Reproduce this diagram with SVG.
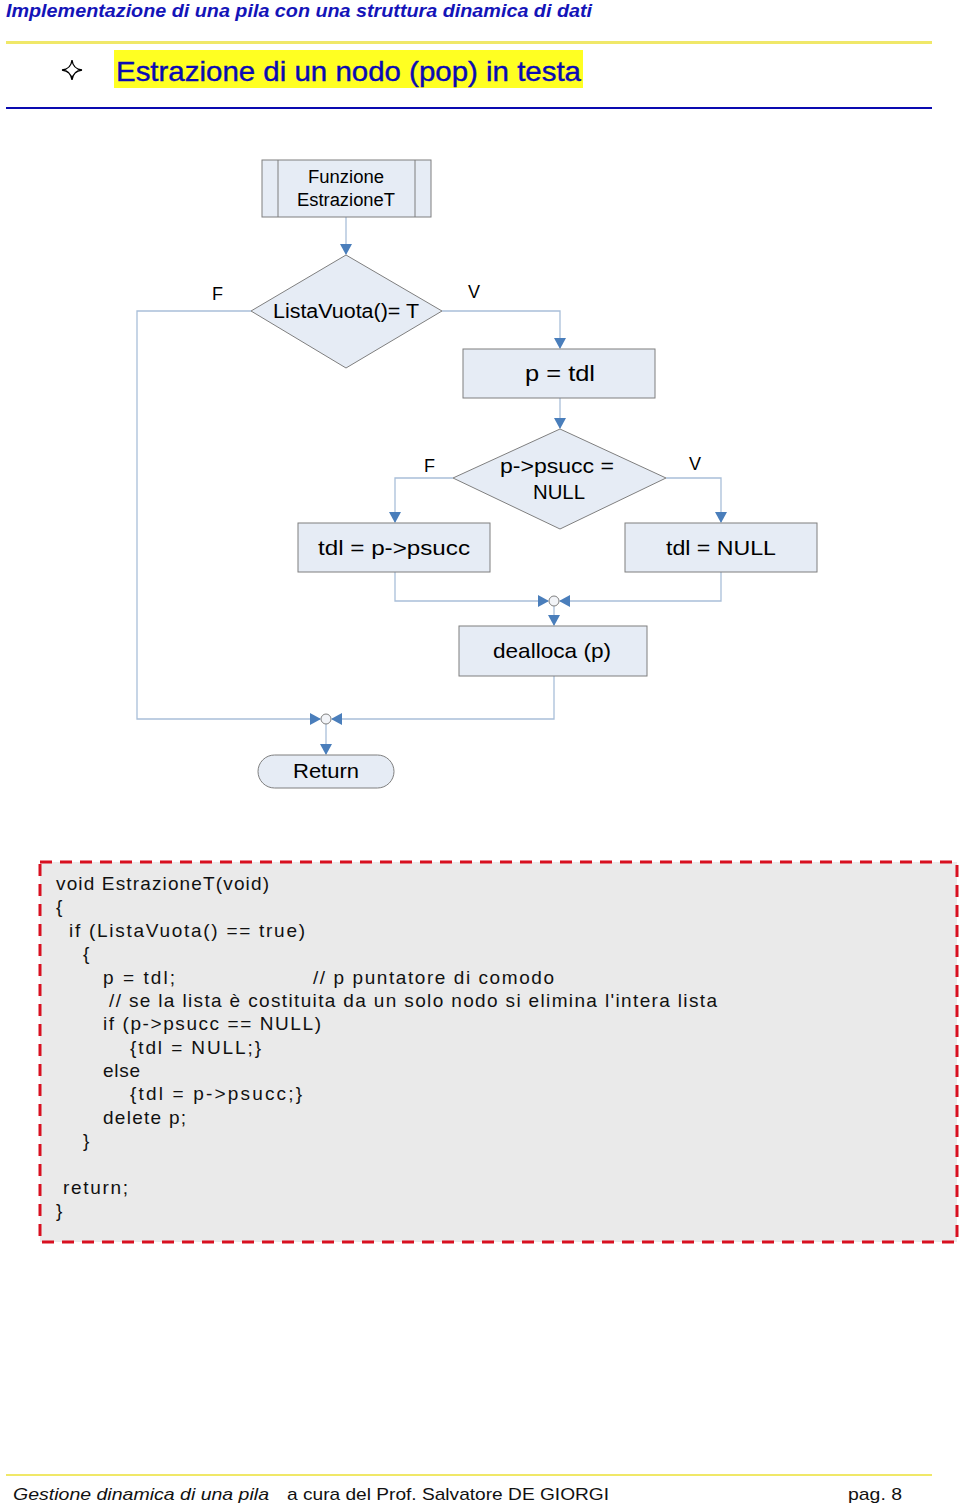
<svg xmlns="http://www.w3.org/2000/svg" width="960" height="1505" viewBox="0 0 960 1505">
<style>
.node{fill:#E6ECF5;stroke:#7F7F7F;stroke-width:1}
.lbl{font-family:"Liberation Sans",Arial,sans-serif;fill:#000;text-anchor:middle}
.tf{font-family:"Liberation Sans",Arial,sans-serif;font-size:18px;fill:#000}
.conn{fill:none;stroke:#A9BFD9;stroke-width:1.3}
.code{font-family:"Liberation Sans",Arial,sans-serif;font-size:19px;fill:#111;letter-spacing:1px}
.foot{font-family:"Liberation Sans",Arial,sans-serif;font-size:17px;fill:#111}
.jn{fill:#F2F4F8;stroke:#808080;stroke-width:1}
</style>
<defs>
<marker id="arr" markerWidth="11" markerHeight="12" refX="10" refY="6" orient="auto" markerUnits="userSpaceOnUse">
<path d="M0,0 L11,6 L0,12 Z" fill="#4A7EBB"/>
</marker>
</defs>
<rect width="960" height="1505" fill="#fff"/>
<!-- header -->
<text x="6" y="17" font-family="Liberation Sans,Arial,sans-serif" font-size="18" font-style="italic" font-weight="bold" fill="#1414B8" textLength="586" lengthAdjust="spacingAndGlyphs">Implementazione di una pila con una struttura dinamica di dati</text>
<rect x="6" y="41" width="926" height="3" fill="#F0E868"/>
<path d="M72,60 Q73,69 82,70 Q73,71 72,80 Q71,71 62,70 Q71,69 72,60 Z" fill="none" stroke="#000" stroke-width="1.3"/>
<rect x="114" y="50" width="469" height="38" fill="#FFFF22"/>
<text x="116" y="81" font-family="Liberation Sans,Arial,sans-serif" font-size="28" fill="#0A0AB4" stroke="#0A0AB4" stroke-width="0.4" textLength="465" lengthAdjust="spacingAndGlyphs">Estrazione di un nodo (pop) in testa</text>
<rect x="6" y="107" width="926" height="2" fill="#0A0AB0"/>

<!-- connectors -->
<g id="connectors">
<path class="conn" d="M346,217 V254" marker-end="url(#arr)"/>
<path class="conn" d="M442,311 H560 V348" marker-end="url(#arr)"/>
<path class="conn" d="M560,398 V428" marker-end="url(#arr)"/>
<path class="conn" d="M453,478 H395 V522" marker-end="url(#arr)"/>
<path class="conn" d="M666,478 H721 V522" marker-end="url(#arr)"/>
<path class="conn" d="M395,572 V601 H548" marker-end="url(#arr)"/>
<path class="conn" d="M721,572 V601 H560" marker-end="url(#arr)"/>
<path class="conn" d="M554,606 V625" marker-end="url(#arr)"/>
<path class="conn" d="M554,676 V719 H332" marker-end="url(#arr)"/>
<path class="conn" d="M251,311 H137 V719 H320" marker-end="url(#arr)"/>
<path class="conn" d="M326,724 V754" marker-end="url(#arr)"/>
<circle class="jn" cx="554" cy="601" r="5"/>
<circle class="jn" cx="326" cy="719" r="5"/>
<text class="tf" x="212" y="300">F</text>
<text class="tf" x="468" y="298">V</text>
<text class="tf" x="424" y="472">F</text>
<text class="tf" x="689" y="470">V</text>
</g>

<!-- nodes -->
<g id="n-funzione">
<rect class="node" x="262" y="160" width="169" height="57"/>
<line x1="278" y1="160" x2="278" y2="217" stroke="#7F7F7F"/>
<line x1="415" y1="160" x2="415" y2="217" stroke="#7F7F7F"/>
<text class="lbl" x="346" y="183" style="font-size:18px" textLength="76" lengthAdjust="spacingAndGlyphs">Funzione</text>
<text class="lbl" x="346" y="206" style="font-size:18px" textLength="98" lengthAdjust="spacingAndGlyphs">EstrazioneT</text>
</g>
<g id="n-listavuota">
<polygon class="node" points="346,255 442,311 346,368 251,311"/>
<text class="lbl" x="346" y="318" style="font-size:20px" textLength="146" lengthAdjust="spacingAndGlyphs">ListaVuota()= T</text>
</g>
<g id="n-ptdl">
<rect class="node" x="463" y="349" width="192" height="49"/>
<text class="lbl" x="560" y="381" style="font-size:22px" textLength="70" lengthAdjust="spacingAndGlyphs">p = tdl</text>
</g>
<g id="n-psucc">
<polygon class="node" points="560,429 666,478 560,529 453,478"/>
<text class="lbl" x="557" y="473" style="font-size:21px" textLength="114" lengthAdjust="spacingAndGlyphs">p-&gt;psucc =</text>
<text class="lbl" x="559" y="499" style="font-size:21px" textLength="52" lengthAdjust="spacingAndGlyphs">NULL</text>
</g>
<g id="n-tdlpsucc">
<rect class="node" x="298" y="523" width="192" height="49"/>
<text class="lbl" x="394" y="555" style="font-size:21px" textLength="152" lengthAdjust="spacingAndGlyphs">tdl = p-&gt;psucc</text>
</g>
<g id="n-tdlnull">
<rect class="node" x="625" y="523" width="192" height="49"/>
<text class="lbl" x="721" y="555" style="font-size:21px" textLength="110" lengthAdjust="spacingAndGlyphs">tdl = NULL</text>
</g>
<g id="n-dealloca">
<rect class="node" x="459" y="626" width="188" height="50"/>
<text class="lbl" x="552" y="658" style="font-size:21px" textLength="118" lengthAdjust="spacingAndGlyphs">dealloca (p)</text>
</g>
<g id="n-return">
<rect class="node" x="258" y="755" width="136" height="33" rx="16.5"/>
<text class="lbl" x="326" y="778" style="font-size:21px" textLength="66" lengthAdjust="spacingAndGlyphs">Return</text>
</g>

<!-- code -->
<g id="code">
<rect x="40" y="862" width="917" height="380" fill="#EAEAEA" stroke="#D81020" stroke-width="3" stroke-dasharray="12,8"/>
<text class="code" x="56" y="890" textLength="214">void EstrazioneT(void)</text>
<text class="code" x="56" y="913">{</text>
<text class="code" x="69" y="937" textLength="237">if (ListaVuota() == true)</text>
<text class="code" x="83" y="960">{</text>
<text class="code" x="103" y="984" textLength="73">p = tdl;</text>
<text class="code" x="313" y="984" textLength="242">// p puntatore di comodo</text>
<text class="code" x="109" y="1007" textLength="609">// se la lista è costituita da un solo nodo si elimina l'intera lista</text>
<text class="code" x="103" y="1030" textLength="219">if (p-&gt;psucc == NULL)</text>
<text class="code" x="130" y="1054" textLength="132">{tdl = NULL;}</text>
<text class="code" x="103" y="1077" textLength="38">else</text>
<text class="code" x="130" y="1100" textLength="173">{tdl = p-&gt;psucc;}</text>
<text class="code" x="103" y="1124" textLength="84">delete p;</text>
<text class="code" x="83" y="1147">}</text>
<text class="code" x="63" y="1194" textLength="66">return;</text>
<text class="code" x="56" y="1217">}</text>
</g>

<!-- footer -->
<rect x="6" y="1474" width="926" height="2" fill="#F0E868"/>
<text class="foot" x="13" y="1500" font-style="italic" textLength="256" lengthAdjust="spacingAndGlyphs">Gestione dinamica di una pila</text>
<text class="foot" x="287" y="1500" textLength="322" lengthAdjust="spacingAndGlyphs">a cura del Prof. Salvatore DE GIORGI</text>
<text class="foot" x="848" y="1500" textLength="54" lengthAdjust="spacingAndGlyphs">pag. 8</text>
</svg>
